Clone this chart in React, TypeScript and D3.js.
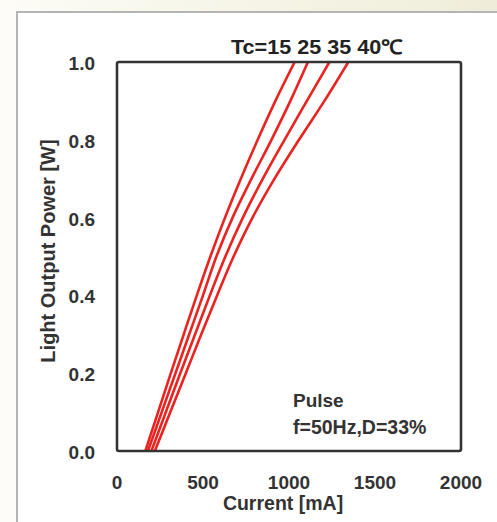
import React from "react";
import * as d3 from "d3";

const powerLevels = [0, 0.1, 0.2, 0.3, 0.4, 0.5, 0.6, 0.7, 0.8, 0.9, 1.0];
const current15 = [165, 239, 313, 388, 464, 543, 628, 720, 818, 921, 1033];
const current25 = [180, 260, 340, 420, 500, 578, 672, 782, 898, 1008, 1110];
const current35 = [200, 284, 368, 454, 540, 630, 732, 848, 974, 1104, 1235];
const current40 = [220, 310, 400, 490, 582, 678, 788, 916, 1058, 1206, 1345];
const seriesList = [current15, current25, current35, current40];
const xTicks = [0, 500, 1000, 1500, 2000];
const yTicks = [0, 0.2, 0.4, 0.6, 0.8, 1.0];

const W = 497;
const H = 522;
const L = 117, R = 461, T = 62, B = 451;
const font = "'Liberation Sans', Arial, sans-serif";

export default function App() {
  const x = d3.scaleLinear().domain([0, 2000]).range([L, R]);
  const y = d3.scaleLinear().domain([0, 1]).range([B, T]);
  const line = d3
    .line<[number, number]>()
    .x((d) => x(d[0]))
    .y((d) => y(d[1]))
    .curve(d3.curveCatmullRom.alpha(0.5));

  return (
    <svg
      width={W}
      height={H}
      style={{ position: "absolute", left: 0, top: 0 }}
      fontFamily={font}
    >
      <defs>
        <linearGradient id="band" x1="0" x2="1" y1="0" y2="0">
          <stop offset="0" stopColor="#fdfcf6" />
          <stop offset="1" stopColor="#efedd9" />
        </linearGradient>
        <clipPath id="plot">
          <rect x={L} y={T} width={R - L} height={B - T} />
        </clipPath>
      </defs>
      <rect x={0} y={0} width={W} height={H} fill="#fdfcf8" />
      <rect x={0} y={0} width={W} height={11} fill="url(#band)" />
      <rect x={17} y={12} width={W + 10} height={H + 10} fill="#ffffff" stroke="#b4b4b4" strokeWidth={2} />

      <g clipPath="url(#plot)">
        {seriesList.map((s, i) => (
          <path
            key={i}
            d={line(s.map((c, j) => [c, powerLevels[j]] as [number, number])) || ""}
            fill="none"
            stroke="#ea2320"
            strokeWidth={2.6}
          />
        ))}
      </g>
      <rect x={L} y={T} width={R - L} height={B - T} fill="none" stroke="#333333" strokeWidth={2.6} rx={2} />

      {yTicks.map((t) => (
        <text key={t} x={95} y={y(t) + 3} textAnchor="end" dominantBaseline="middle" fontSize={19} fontWeight="bold" fill="#333">
          {t.toFixed(1)}
        </text>
      ))}
      {xTicks.map((t) => (
        <text key={t} x={x(t)} y={489} textAnchor="middle" fontSize={19} fontWeight="bold" fill="#333">
          {t}
        </text>
      ))}
      <text x={283} y={510} textAnchor="middle" fontSize={19.5} fontWeight="bold" fill="#333">
        Current [mA]
      </text>
      <text
        transform={`translate(55,251) rotate(-90)`}
        textAnchor="middle"
        fontSize={20}
        fontWeight="bold"
        fill="#333"
      >
        Light Output Power [W]
      </text>
      <text x={231} y={54} fontSize={20} fontWeight="bold" fill="#222" textLength={172} lengthAdjust="spacingAndGlyphs">
        Tc=15 25 35 40℃
      </text>
      <text x={293} y={407} fontSize={19} fontWeight="bold" fill="#333">
        Pulse
      </text>
      <text x={293} y={434} fontSize={19.5} fontWeight="bold" fill="#333">
        f=50Hz,D=33%
      </text>
    </svg>
  );
}
